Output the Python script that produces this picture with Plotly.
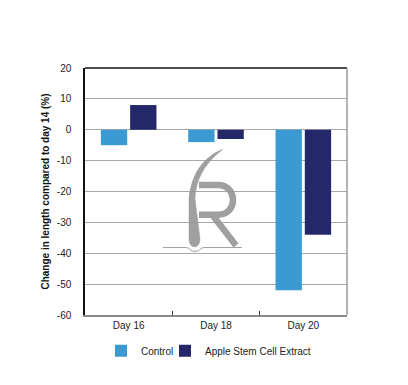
import plotly.graph_objects as go

categories = ["Day 16", "Day 18", "Day 20"]
control = [-5, -4, -52]
apple = [8, -3, -34]
series_names = ["Control", "Apple Stem Cell Extract"]
y_ticks = [-60, -50, -40, -30, -20, -10, 0, 10, 20]

C_LIGHT = "#3b9ad2"
C_DARK = "#24276a"
FONT = "Liberation Sans, Arial, sans-serif"

# plot area in page pixels (page has 8px body margin)
PL, PR, PT, PB = 85, 347, 68, 317


def px_x(x):
    return (x - PL) / (PR - PL)


def px_y(y):
    return (PB - y) / (PB - PT)


fig = go.Figure()
fig.add_trace(go.Bar(x=categories, y=control, name=series_names[0], legend="legend",
                     marker=dict(color=C_LIGHT, line=dict(width=0))))
fig.add_trace(go.Bar(x=categories, y=apple, name=series_names[1], legend="legend2",
                     marker=dict(color=C_DARK, line=dict(width=0))))

leg_common = dict(orientation="h", xanchor="left", yanchor="middle",
                  font=dict(size=10, color="#222"), bgcolor="rgba(0,0,0,0)")
fig.update_layout(
    width=400, height=369,
    margin=dict(l=PL - 8, r=400 - (PR - 8), t=PT - 8, b=369 - (PB - 8)),
    paper_bgcolor="white", plot_bgcolor="white",
    barmode="group", bargap=0.33, bargroupgap=0.1,
    font=dict(family=FONT, size=10, color="#222"),
    showlegend=True,
    legend=dict(x=px_x(101), y=px_y(353), **leg_common),
    legend2=dict(x=px_x(165), y=px_y(353), **leg_common),
)
fig.update_xaxes(
    showline=True, linecolor="#8a8a8a", linewidth=2,
    ticks="inside", tickson="boundaries", ticklen=4, tickcolor="#333", tickwidth=1,
    showgrid=False, tickfont=dict(size=10, color="#222"),
)
fig.update_yaxes(
    range=[-60, 20], tickvals=y_ticks, ticktext=[str(v) for v in y_ticks],
    showline=True, linecolor="#111", linewidth=1.5,
    showgrid=True, gridcolor="#a8a8a8", gridwidth=1, zeroline=False,
    ticks="", ticklabelstandoff=10, tickfont=dict(size=10, color="#222"),
    title=dict(text="<b>Change in length compared to day 14 (%)</b>",
               font=dict(size=10, color="#111"), standoff=5),
)
# top (black) and right (gray) borders
fig.add_shape(type="line", xref="paper", yref="paper", x0=0, x1=1, y0=1, y1=1,
              line=dict(color="#111", width=1.5))
fig.add_shape(type="line", xref="paper", yref="paper", x0=1, x1=1, y0=0, y1=1,
              line=dict(color="#9a9a9a", width=1.5))


# decorative watermark logo (page pixel coords -> paper coords)
def P(x, y):
    return f"{px_x(x):.4f},{px_y(y):.4f}"


WM = "rgba(150,150,150,0.9)"
r_path = (f"M{P(199,186)} L{P(218,186)} C{P(238,186)} {P(238,216)} {P(218,216)} "
          f"L{P(199,216)} M{P(213,217)} L{P(236,247)}")
fig.add_shape(type="path", xref="paper", yref="paper", path=r_path,
              line=dict(color=WM, width=6.5), layer="above")
hair = (f"M{P(223,150)} C{P(204,157)} {P(191,175)} {P(189,200)} L{P(189,240)} "
        f"C{P(189,251)} {P(200,251)} {P(200,240)} L{P(195,200)} "
        f"C{P(196,178)} {P(207,162)} {P(223,150)} Z")
fig.add_shape(type="path", xref="paper", yref="paper", path=hair,
              fillcolor=WM, line=dict(color=WM, width=0.5), layer="above")
base = (f"M{P(163,249)} L{P(186,249)} C{P(190,249)} {P(190,253)} {P(195,253)} "
        f"C{P(200,253)} {P(200,249)} {P(204,249)} L{P(242,249)}")
fig.add_shape(type="path", xref="paper", yref="paper", path=base,
              line=dict(color=WM, width=1), layer="above")

fig.write_html("out.html")
